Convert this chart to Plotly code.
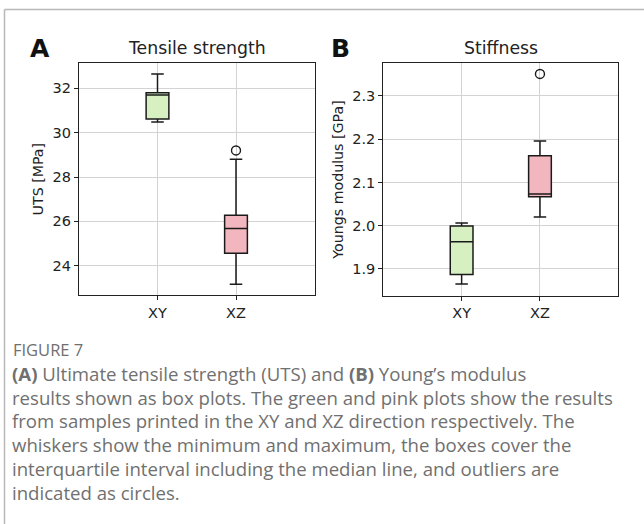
import plotly.graph_objects as go

# ---------------- data ----------------
categories = ["XY", "XZ"]

# Panel A: Ultimate tensile strength [MPa]
uts_min = [30.48, 23.16]
uts_q1 = [30.62, 24.56]
uts_median = [31.70, 25.68]
uts_q3 = [31.80, 26.28]
uts_max = [32.65, 28.80]
uts_outlier_cat = ["XZ"]
uts_outliers = [29.20]

# Panel B: Young's modulus [GPa]
ym_min = [1.865, 2.020]
ym_q1 = [1.887, 2.067]
ym_median = [1.963, 2.073]
ym_q3 = [1.999, 2.162]
ym_max = [2.006, 2.196]
ym_outlier_cat = ["XZ"]
ym_outliers = [2.351]

uts_ticks = [24, 26, 28, 30, 32]
ym_ticks = [1.9, 2.0, 2.1, 2.2, 2.3]

box_colors = ["#d6f0c2", "#f2b6be"]

W, H = 644, 524
fig = go.Figure()


def px_x(v):
    return v / W


def px_y(v):
    return 1 - v / H


panels = [
    dict(xa="x", ya="y", mn=uts_min, q1=uts_q1, md=uts_median, q3=uts_q3, mx=uts_max,
         oc=uts_outlier_cat, ov=uts_outliers),
    dict(xa="x2", ya="y2", mn=ym_min, q1=ym_q1, md=ym_median, q3=ym_q3, mx=ym_max,
         oc=ym_outlier_cat, ov=ym_outliers),
]

for p in panels:
    for i, cat in enumerate(categories):
        fig.add_trace(go.Box(
            x=[cat], q1=[p["q1"][i]], median=[p["md"][i]], q3=[p["q3"][i]],
            lowerfence=[p["mn"][i]], upperfence=[p["mx"][i]],
            fillcolor=box_colors[i], line=dict(color="#1a1a1a", width=1.5),
            width=0.29, whiskerwidth=0.55, boxpoints=False,
            xaxis=p["xa"], yaxis=p["ya"], showlegend=False, hoverinfo="skip",
        ))
    fig.add_trace(go.Scatter(
        x=p["oc"], y=p["ov"], mode="markers",
        marker=dict(symbol="circle-open", size=9, color="#1a1a1a", line=dict(width=1.4)),
        xaxis=p["xa"], yaxis=p["ya"], showlegend=False, hoverinfo="skip",
    ))

axis_common = dict(
    showline=True, linecolor="#222", linewidth=1.2, mirror=True,
    showgrid=True, gridcolor="#d3d3d3", gridwidth=1,
    ticks="outside", ticklen=4, tickcolor="#222", tickwidth=1,
    tickfont=dict(family="DejaVu Sans", size=14.5, color="#222"),
    zeroline=False,
)
title_font = dict(family="DejaVu Sans", size=14.2, color="#222")

fig.update_layout(
    width=W, height=H,
    margin=dict(l=0, r=0, t=0, b=0),
    paper_bgcolor="white", plot_bgcolor="white",
    boxmode="overlay",
    xaxis=dict(domain=[px_x(79), px_x(314.5)], anchor="y", type="category",
               categoryorder="array", categoryarray=categories, range=[-1, 2], **axis_common),
    yaxis=dict(domain=[px_y(295), px_y(63.3)], anchor="x", range=[22.68, 33.13],
               tickvals=uts_ticks, ticktext=[str(t) for t in uts_ticks],
               title=dict(text="UTS [MPa]", font=title_font, standoff=5),
               **axis_common),
    xaxis2=dict(domain=[px_x(383.3), px_x(618.3)], anchor="y2", type="category",
                categoryorder="array", categoryarray=categories, range=[-1, 2], **axis_common),
    yaxis2=dict(domain=[px_y(295.7), px_y(63.3)], anchor="x2", range=[1.838, 2.3756],
                tickvals=ym_ticks, ticktext=[f"{t:.1f}" for t in ym_ticks],
                title=dict(text="Youngs modulus [GPa]", font=title_font, standoff=5),
                **axis_common),
)

annotations = [
    dict(text="<b>A</b>", x=px_x(40), y=px_y(48), font=dict(family="DejaVu Sans", size=25, color="#111")),
    dict(text="<b>B</b>", x=px_x(340), y=px_y(48), font=dict(family="DejaVu Sans", size=25, color="#111")),
    dict(text="Tensile strength", x=px_x(197), y=px_y(48), font=dict(family="DejaVu Sans", size=17.3, color="#222")),
    dict(text="Stiffness", x=px_x(501), y=px_y(48), font=dict(family="DejaVu Sans", size=17.3, color="#222")),
]
for a in annotations:
    fig.add_annotation(xref="paper", yref="paper", showarrow=False, xanchor="center", yanchor="middle", **a)

caption_color = "#707070"
fig.add_annotation(text="FIGURE 7", xref="paper", yref="paper", x=px_x(11), y=px_y(349),
                   xanchor="left", yanchor="middle", showarrow=False,
                   font=dict(family="Open Sans", size=16.5, color=caption_color))
caption_lines = [
    "<b>(A)</b> Ultimate tensile strength (UTS) and <b>(B)</b> Young\u2019s modulus",
    "results shown as box plots. The green and pink plots show the results",
    "from samples printed in the XY and XZ direction respectively. The",
    "whiskers show the minimum and maximum, the boxes cover the",
    "interquartile interval including the median line, and outliers are",
    "indicated as circles.",
]
for i, line in enumerate(caption_lines):
    fig.add_annotation(text=line, xref="paper", yref="paper", x=px_x(10), y=px_y(373.5 + i * 23.7),
                       xanchor="left", yanchor="middle", showarrow=False,
                       font=dict(family="Open Sans", size=18.6, color=caption_color))

# page frame lines
fig.add_shape(type="line", xref="paper", yref="paper", x0=px_x(4.5), x1=1, y0=px_y(9.5), y1=px_y(9.5),
              layer="above", line=dict(color="#b8b8b8", width=1.5))
fig.add_shape(type="line", xref="paper", yref="paper", x0=px_x(4.5), x1=px_x(4.5), y0=0, y1=px_y(9.5),
              layer="above", line=dict(color="#b8b8b8", width=1.5))

fig.write_html("out.html", config={"displayModeBar": False},
               post_script="document.body.style.margin='0';")
